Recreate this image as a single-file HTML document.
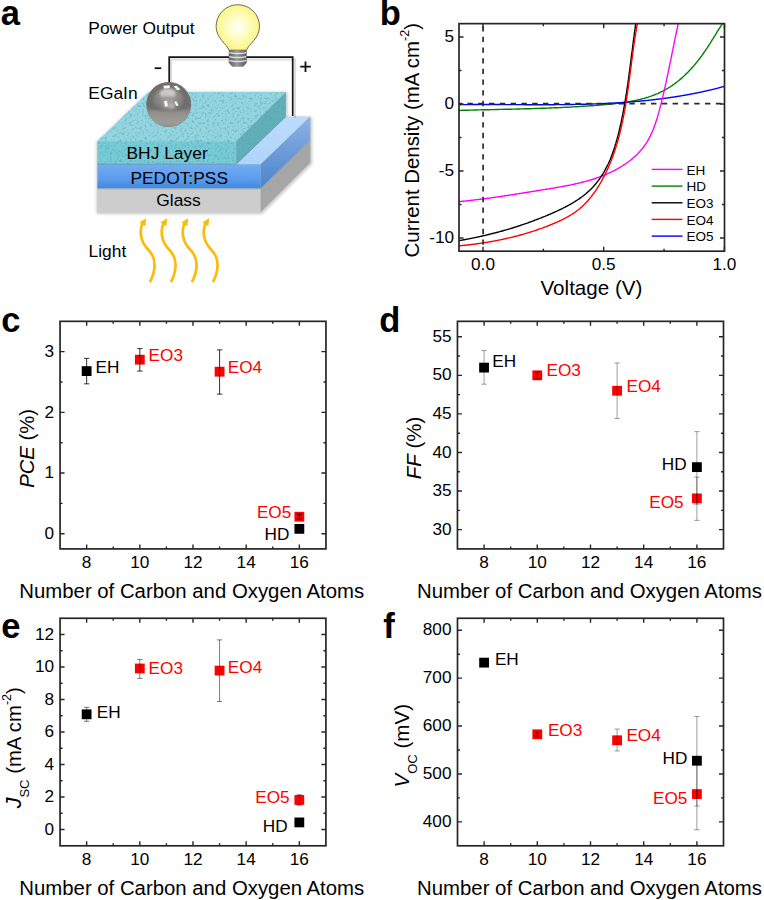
<!DOCTYPE html>
<html><head><meta charset="utf-8"><style>
html,body{margin:0;padding:0;background:#fff;}
body{width:764px;height:900px;overflow:hidden;font-family:"Liberation Sans", sans-serif;}
svg{display:block;}
</style></head><body><svg width="764" height="900" viewBox="0 0 764 900" font-family='"Liberation Sans", sans-serif'><rect width="764" height="900" fill="#fff"/><defs>
<radialGradient id="bulbg" cx="0.5" cy="0.5" r="0.55"><stop offset="0" stop-color="#ffffff"/><stop offset="0.45" stop-color="#fffcc0"/><stop offset="1" stop-color="#fbf57c"/></radialGradient>
<linearGradient id="screwg" x1="0" x2="1" y1="0" y2="0"><stop offset="0" stop-color="#5e5e5e"/><stop offset="0.45" stop-color="#9a9a9a"/><stop offset="1" stop-color="#5a5a5a"/></linearGradient>
<radialGradient id="ballg" cx="0.5" cy="0.5" r="0.5"><stop offset="0" stop-color="#8f8e8a"/><stop offset="0.8" stop-color="#8a8985"/><stop offset="1" stop-color="#6f6e6b"/></radialGradient>
<linearGradient id="pedotf" x1="0" x2="0" y1="0" y2="1"><stop offset="0" stop-color="#72acf4"/><stop offset="0.6" stop-color="#5b9cec"/><stop offset="1" stop-color="#408ae0"/></linearGradient>
<linearGradient id="pedots" x1="0" x2="0" y1="0" y2="1"><stop offset="0" stop-color="#8eb2e3"/><stop offset="1" stop-color="#4a84cc"/></linearGradient>
<linearGradient id="pedott" x1="0" x2="1" y1="1" y2="0"><stop offset="0" stop-color="#a9d0f8"/><stop offset="1" stop-color="#bcdcfc"/></linearGradient>
<filter id="blur1" x="-20%" y="-20%" width="140%" height="140%"><feGaussianBlur stdDeviation="1.6"/></filter>
<filter id="blur05" x="-20%" y="-20%" width="140%" height="140%"><feGaussianBlur stdDeviation="0.6"/></filter>
<filter id="tex" x="0" y="0" width="100%" height="100%" color-interpolation-filters="sRGB"><feTurbulence type="fractalNoise" baseFrequency="0.4" numOctaves="2" seed="5" result="n"/><feColorMatrix in="n" type="matrix" values="0 0 0 0 0.36  0 0 0 0 0.64  0 0 0 0 0.70  0 0 0 2.0 -1.0" result="c"/><feGaussianBlur in="c" stdDeviation="0.5" result="cb"/><feComposite in="cb" in2="SourceGraphic" operator="in" result="t"/><feMerge><feMergeNode in="SourceGraphic"/><feMergeNode in="t"/></feMerge></filter>
</defs><polygon points="96.5,142 148.6,92 287.5,92 287.5,117 312,117 312,164 262,214 96.5,214" fill="#000" opacity="0.22" filter="url(#blur1)"/><polygon points="97.4,188.3 260.7,188.3 260.7,211.9 97.4,211.9" fill="#cdcdcd"/><polygon points="260.7,188.3 310.3,139.8 310.3,162.5 260.7,211.9" fill="#a6a6a6"/><path d="M97.4 188.8H260.7L310.3 140.3" stroke="#9a9a9a" stroke-width="1" fill="none" opacity="0.7"/><polygon points="97.4,164.2 147.6,116.6 310.3,116.6 260.7,164.2" fill="url(#pedott)"/><polygon points="97.4,164.2 260.7,164.2 260.7,188.3 97.4,188.3" fill="url(#pedotf)"/><polygon points="260.7,164.2 310.3,116.6 310.3,139.8 260.7,188.3" fill="url(#pedots)"/><g filter="url(#tex)"><polygon points="97.4,141.3 148.6,91.9 285.9,91.9 236.1,141.3" fill="#93d6e1"/><polygon points="97.4,141.3 236.1,141.3 236.1,164.2 97.4,164.2" fill="#76cbd6"/><polygon points="236.1,141.3 285.9,91.9 285.9,116.6 236.1,164.2" fill="#61afb8"/></g><path d="M97.4 164.2H236.1L285.9 116.6" stroke="#5a7f9a" stroke-width="1" fill="none" opacity="0.55"/><path d="M171 84V59.5H295V118" stroke="#000" stroke-width="2.2" fill="none" opacity="0.13" filter="url(#blur05)"/><path d="M169.2 82V57.2H292.7V116" stroke="#151515" stroke-width="1.7" fill="none"/><path d="M229 50.2 C227 44 216.1 38.5 216.1 26.4 A21.7 21.7 0 0 1 259.5 26.4 C259.5 38.5 248.5 44 246.5 50.2 Z" fill="url(#bulbg)" stroke="#5a5a50" stroke-width="0.9"/><path d="M228.8 50.2H246.7V62.8L243.3 66.8H232.2L228.8 62.8Z" fill="url(#screwg)"/><path d="M229.3 52.6Q237.7 54.4 246.2 52.6" stroke="#e2e2e2" stroke-width="1.3" fill="none"/><path d="M229.3 56.6Q237.7 58.4 246.2 56.6" stroke="#e2e2e2" stroke-width="1.3" fill="none"/><path d="M229.3 60.6Q237.7 62.4 246.2 60.6" stroke="#e2e2e2" stroke-width="1.3" fill="none"/><defs><radialGradient id="ballin" cx="0.5" cy="0.35" r="0.6"><stop offset="0" stop-color="#a09f9b"/><stop offset="1" stop-color="#7c7b78"/></radialGradient><linearGradient id="balllow" x1="0" x2="0" y1="0" y2="1"><stop offset="0" stop-color="#8f8e8a"/><stop offset="0.6" stop-color="#9d9c98"/><stop offset="1" stop-color="#8a8985"/></linearGradient><clipPath id="ballclip"><circle cx="168.7" cy="104.5" r="22.4"/></clipPath><filter id="bblur" x="-30%" y="-30%" width="160%" height="160%"><feGaussianBlur stdDeviation="0.9"/></filter></defs><circle cx="168.7" cy="104.5" r="22.4" fill="#7a7976"/><g clip-path="url(#ballclip)"><g filter="url(#bblur)"><rect x="140" y="110.5" width="60" height="20" fill="url(#balllow)"/><path d="M146 104 Q146 82 168.7 82 Q191.4 82 191.4 104 Q191.4 110 168.7 111.5 Q146 110 146 104Z" fill="#6f6e6b"/><ellipse cx="168.5" cy="99.5" rx="15" ry="11.5" fill="url(#ballin)"/><ellipse cx="167.8" cy="93.6" rx="7.8" ry="5" fill="#cac8c2"/><path d="M163 96 H172.5 L173.5 107 Q168 110 162.5 107Z" fill="#9e9d99"/><ellipse cx="171.5" cy="106" rx="3.6" ry="2.8" fill="#b2b1ac"/></g><path d="M163.3 85.8 L169.6 85.2 L169.8 88 L164 88.6Z M173.6 86.3 L176.5 85.8 L180.5 89.5 L177.3 90.3Z M164.2 101.2 L167 100.8 L167.8 106.3 L165 106.6Z M174.2 101.7 L176.3 101.3 L178.6 105.3 L176.5 105.9Z" fill="#ffffff" filter="url(#blur05)"/></g><text x="88.3" y="33.5" font-size="17.4">Power Output</text><text x="88.3" y="99" font-size="17.4">EGaIn</text><text x="126.5" y="158.5" font-size="17.4">BHJ Layer</text><text x="130.4" y="183.7" font-size="17.4">PEDOT:PSS</text><text x="156.3" y="206.4" font-size="17.4">Glass</text><text x="88.5" y="256.5" font-size="17.4">Light</text><path d="M154.7 68.2H161.3" stroke="#111" stroke-width="1.8"/><path d="M305.5 61.5V72M300.2 66.7H310.8" stroke="#111" stroke-width="1.8"/><path d="M150.4 281.1 C155 272 157.5 259 148.5 250 C140.5 242 139.2 232 142.2 224" stroke="#fcbb0a" stroke-width="2.7" fill="none" stroke-linecap="round"/><polygon points="146.2,218.2 139.4,222.4 145.4,226.2" fill="#fcbb0a"/><path d="M171.4 281.1 C176 272 178.5 259 169.5 250 C161.5 242 160.2 232 163.2 224" stroke="#fcbb0a" stroke-width="2.7" fill="none" stroke-linecap="round"/><polygon points="167.2,218.2 160.4,222.4 166.4,226.2" fill="#fcbb0a"/><path d="M192.4 281.1 C197 272 199.5 259 190.5 250 C182.5 242 181.2 232 184.2 224" stroke="#fcbb0a" stroke-width="2.7" fill="none" stroke-linecap="round"/><polygon points="188.2,218.2 181.4,222.4 187.4,226.2" fill="#fcbb0a"/><path d="M213.4 281.1 C218 272 220.5 259 211.5 250 C203.5 242 202.2 232 205.2 224" stroke="#fcbb0a" stroke-width="2.7" fill="none" stroke-linecap="round"/><polygon points="209.2,218.2 202.4,222.4 208.4,226.2" fill="#fcbb0a"/><text x="0.8" y="25.3" font-size="34.5" text-anchor="start" fill="#000" font-weight="bold">a</text><text x="379.8" y="25.2" font-size="34.5" text-anchor="start" fill="#000" font-weight="bold">b</text><text x="1.2" y="331.7" font-size="34.5" text-anchor="start" fill="#000" font-weight="bold">c</text><text x="379.3" y="331.7" font-size="34.5" text-anchor="start" fill="#000" font-weight="bold">d</text><text x="1.2" y="637.5" font-size="34.5" text-anchor="start" fill="#000" font-weight="bold">e</text><text x="383.3" y="637.5" font-size="34.5" text-anchor="start" fill="#000" font-weight="bold">f</text><g><defs><clipPath id="cb"><rect x="459.0" y="23.64" width="265.5" height="227.56"/></clipPath></defs><g clip-path="url(#cb)"><path d="M452.5 110.6 L453.3 110.6 L454.1 110.6 L455.0 110.5 L455.8 110.5 L456.6 110.5 L457.5 110.5 L458.3 110.5 L459.1 110.4 L459.9 110.4 L460.7 110.4 L461.6 110.4 L462.4 110.3 L463.2 110.3 L464.0 110.3 L464.8 110.3 L465.7 110.2 L466.5 110.2 L467.3 110.2 L468.1 110.2 L468.9 110.2 L469.7 110.1 L470.5 110.1 L471.3 110.1 L472.1 110.1 L472.9 110.1 L473.7 110.0 L474.5 110.0 L475.3 110.0 L476.1 110.0 L476.9 110.0 L477.7 109.9 L478.5 109.9 L479.3 109.9 L480.1 109.9 L480.9 109.9 L481.7 109.8 L482.5 109.8 L483.3 109.8 L484.1 109.8 L484.9 109.8 L485.7 109.7 L486.5 109.7 L487.3 109.7 L488.0 109.7 L488.8 109.7 L489.6 109.7 L490.4 109.6 L491.2 109.6 L492.0 109.6 L492.7 109.6 L493.5 109.6 L494.3 109.6 L495.1 109.5 L495.9 109.5 L496.6 109.5 L497.4 109.5 L498.2 109.5 L499.0 109.4 L499.7 109.4 L500.5 109.4 L501.3 109.4 L502.0 109.4 L502.8 109.4 L503.6 109.3 L504.4 109.3 L505.1 109.3 L505.9 109.3 L506.7 109.3 L507.4 109.3 L508.2 109.2 L509.0 109.2 L509.7 109.2 L510.5 109.2 L511.3 109.2 L512.0 109.1 L512.8 109.1 L513.6 109.1 L514.3 109.1 L515.1 109.1 L515.8 109.1 L516.6 109.0 L517.4 109.0 L518.1 109.0 L518.9 109.0 L519.6 109.0 L520.4 108.9 L521.2 108.9 L521.9 108.9 L522.7 108.9 L523.4 108.9 L524.2 108.8 L525.0 108.8 L525.7 108.8 L526.5 108.8 L527.2 108.8 L528.0 108.7 L528.7 108.7 L529.5 108.7 L530.3 108.7 L531.0 108.6 L531.8 108.6 L532.5 108.6 L533.3 108.6 L534.0 108.6 L534.8 108.5 L535.5 108.5 L536.3 108.5 L537.0 108.5 L537.8 108.4 L538.5 108.4 L539.3 108.4 L540.1 108.4 L540.8 108.3 L541.6 108.3 L542.3 108.3 L543.1 108.3 L543.8 108.2 L544.6 108.2 L545.3 108.2 L546.1 108.2 L546.8 108.1 L547.6 108.1 L548.3 108.1 L549.1 108.0 L549.8 108.0 L550.6 108.0 L551.3 108.0 L552.1 107.9 L552.8 107.9 L553.6 107.9 L554.4 107.8 L555.1 107.8 L555.9 107.8 L556.6 107.7 L557.4 107.7 L558.1 107.7 L558.9 107.6 L559.6 107.6 L560.4 107.6 L561.1 107.5 L561.9 107.5 L562.6 107.5 L563.4 107.4 L564.2 107.4 L564.9 107.3 L565.7 107.3 L566.4 107.3 L567.2 107.2 L567.9 107.2 L568.7 107.2 L569.5 107.1 L570.2 107.1 L571.0 107.0 L571.7 107.0 L572.5 106.9 L573.3 106.9 L574.0 106.9 L574.8 106.8 L575.5 106.8 L576.3 106.7 L577.1 106.7 L577.8 106.6 L578.6 106.6 L579.3 106.5 L580.1 106.5 L580.9 106.4 L581.6 106.4 L582.4 106.3 L583.2 106.3 L583.9 106.2 L584.7 106.2 L585.5 106.1 L586.2 106.1 L587.0 106.0 L587.8 106.0 L588.5 105.9 L589.3 105.9 L590.1 105.8 L590.9 105.8 L591.6 105.7 L592.4 105.7 L593.2 105.6 L594.0 105.5 L594.7 105.5 L595.5 105.4 L596.3 105.4 L597.1 105.3 L597.8 105.2 L598.6 105.2 L599.4 105.1 L600.2 105.0 L601.0 105.0 L601.7 104.9 L602.5 104.8 L603.3 104.8 L604.1 104.7 L604.9 104.6 L605.7 104.6 L606.5 104.5 L607.2 104.4 L608.0 104.4 L608.8 104.3 L609.6 104.2 L610.4 104.1 L611.2 104.0 L612.0 104.0 L612.7 103.9 L613.5 103.8 L614.3 103.7 L615.1 103.6 L615.9 103.5 L616.7 103.4 L617.5 103.3 L618.3 103.2 L619.0 103.1 L619.8 103.0 L620.6 102.9 L621.4 102.8 L622.2 102.7 L623.0 102.6 L623.7 102.5 L624.5 102.4 L625.3 102.3 L626.1 102.1 L626.9 102.0 L627.6 101.9 L628.4 101.7 L629.2 101.6 L630.0 101.5 L630.7 101.3 L631.5 101.2 L632.3 101.0 L633.1 100.9 L633.8 100.7 L634.6 100.6 L635.4 100.4 L636.1 100.3 L636.9 100.1 L637.7 99.9 L638.4 99.7 L639.2 99.6 L639.9 99.4 L640.7 99.2 L641.4 99.0 L642.2 98.8 L642.9 98.6 L643.7 98.4 L644.4 98.2 L645.2 98.0 L645.9 97.8 L646.7 97.5 L647.4 97.3 L648.1 97.1 L648.9 96.8 L649.6 96.6 L650.3 96.3 L651.0 96.1 L651.8 95.8 L652.5 95.6 L653.2 95.3 L653.9 95.0 L654.6 94.8 L655.3 94.5 L656.0 94.2 L656.8 93.9 L657.5 93.6 L658.2 93.3 L658.8 93.0 L659.5 92.7 L660.2 92.4 L660.9 92.0 L661.6 91.7 L662.3 91.4 L662.9 91.0 L663.6 90.7 L664.3 90.3 L665.0 89.9 L665.6 89.6 L666.3 89.2 L666.9 88.8 L667.6 88.4 L668.2 88.0 L668.9 87.6 L669.5 87.2 L670.2 86.8 L670.8 86.4 L671.4 86.0 L672.1 85.6 L672.7 85.1 L673.3 84.7 L673.9 84.3 L674.5 83.8 L675.2 83.4 L675.8 82.9 L676.4 82.4 L677.0 82.0 L677.6 81.5 L678.2 81.0 L678.8 80.5 L679.4 80.1 L679.9 79.6 L680.5 79.1 L681.1 78.6 L681.7 78.1 L682.3 77.6 L682.8 77.0 L683.4 76.5 L684.0 76.0 L684.5 75.5 L685.1 75.0 L685.6 74.4 L686.2 73.9 L686.7 73.3 L687.3 72.8 L687.8 72.2 L688.4 71.7 L688.9 71.1 L689.4 70.6 L690.0 70.0 L690.5 69.4 L691.0 68.9 L691.6 68.3 L692.1 67.7 L692.6 67.1 L693.1 66.5 L693.6 66.0 L694.1 65.4 L694.6 64.8 L695.1 64.2 L695.6 63.6 L696.1 63.0 L696.6 62.4 L697.1 61.8 L697.6 61.1 L698.1 60.5 L698.6 59.9 L699.0 59.3 L699.5 58.7 L700.0 58.0 L700.5 57.4 L700.9 56.8 L701.4 56.2 L701.9 55.5 L702.3 54.9 L702.8 54.3 L703.2 53.6 L703.7 53.0 L704.1 52.3 L704.6 51.7 L705.0 51.0 L705.5 50.4 L705.9 49.7 L706.3 49.1 L706.8 48.4 L707.2 47.8 L707.6 47.1 L708.1 46.5 L708.5 45.8 L708.9 45.1 L709.3 44.5 L709.8 43.8 L710.2 43.2 L710.6 42.5 L711.0 41.8 L711.4 41.2 L711.8 40.5 L712.2 39.9 L712.7 39.2 L713.1 38.5 L713.5 37.9 L713.9 37.2 L714.3 36.6 L714.7 35.9 L715.1 35.3 L715.5 34.6 L715.9 33.9 L716.3 33.3 L716.7 32.6 L717.1 32.0 L717.5 31.3 L717.9 30.7 L718.3 30.0 L718.7 29.4 L719.2 28.7 L719.6 28.1 L720.0 27.5 L720.4 26.8 L720.8 26.2 L721.2 25.6 L721.6 24.9 L722.0 24.3 L722.4 23.7 L722.8 23.0 L723.2 22.4 L723.6 21.8 L724.0 21.2 L724.5 20.6 L724.9 20.0 L725.3 19.4" stroke="#008000" stroke-width="1.4" fill="none" stroke-linejoin="round"/><path d="M452.9 104.8 L453.6 104.8 L454.3 104.7 L455.0 104.7 L455.7 104.7 L456.4 104.7 L457.1 104.7 L457.8 104.7 L458.5 104.7 L459.2 104.7 L459.9 104.7 L460.6 104.7 L461.3 104.6 L462.0 104.6 L462.7 104.6 L463.3 104.6 L464.0 104.6 L464.7 104.6 L465.4 104.6 L466.1 104.6 L466.8 104.6 L467.5 104.6 L468.2 104.6 L468.9 104.6 L469.6 104.6 L470.3 104.6 L471.0 104.6 L471.7 104.6 L472.4 104.6 L473.1 104.5 L473.8 104.5 L474.5 104.5 L475.2 104.5 L475.9 104.5 L476.6 104.5 L477.3 104.5 L478.0 104.5 L478.7 104.5 L479.4 104.5 L480.1 104.5 L480.8 104.5 L481.5 104.5 L482.2 104.5 L482.9 104.5 L483.5 104.5 L484.2 104.5 L484.9 104.5 L485.6 104.5 L486.3 104.5 L487.0 104.5 L487.7 104.5 L488.4 104.5 L489.1 104.5 L489.8 104.5 L490.5 104.5 L491.2 104.5 L491.9 104.5 L492.6 104.5 L493.3 104.5 L494.0 104.5 L494.7 104.5 L495.4 104.5 L496.1 104.5 L496.8 104.5 L497.5 104.5 L498.2 104.5 L498.9 104.5 L499.6 104.5 L500.3 104.5 L501.0 104.5 L501.7 104.6 L502.4 104.6 L503.1 104.6 L503.8 104.6 L504.5 104.6 L505.2 104.6 L505.9 104.6 L506.6 104.6 L507.3 104.6 L508.0 104.6 L508.7 104.6 L509.4 104.6 L510.1 104.6 L510.8 104.6 L511.5 104.6 L512.2 104.6 L512.9 104.6 L513.6 104.6 L514.3 104.6 L515.0 104.6 L515.7 104.6 L516.4 104.6 L517.1 104.6 L517.8 104.6 L518.5 104.6 L519.2 104.6 L519.9 104.6 L520.6 104.6 L521.3 104.6 L522.0 104.6 L522.7 104.6 L523.4 104.6 L524.1 104.7 L524.8 104.7 L525.5 104.7 L526.2 104.7 L526.9 104.7 L527.6 104.7 L528.3 104.7 L529.0 104.7 L529.7 104.7 L530.4 104.7 L531.1 104.7 L531.8 104.7 L532.5 104.7 L533.2 104.7 L533.9 104.7 L534.6 104.7 L535.3 104.7 L536.0 104.7 L536.7 104.7 L537.4 104.7 L538.1 104.7 L538.8 104.7 L539.5 104.7 L540.2 104.7 L540.9 104.7 L541.6 104.7 L542.3 104.7 L543.0 104.7 L543.7 104.7 L544.4 104.7 L545.1 104.7 L545.8 104.7 L546.5 104.7 L547.2 104.7 L547.9 104.7 L548.6 104.7 L549.3 104.7 L550.0 104.7 L550.7 104.7 L551.4 104.7 L552.1 104.7 L552.8 104.7 L553.5 104.7 L554.2 104.7 L554.9 104.7 L555.6 104.6 L556.3 104.6 L557.0 104.6 L557.7 104.6 L558.4 104.6 L559.1 104.6 L559.8 104.6 L560.5 104.6 L561.2 104.6 L561.9 104.6 L562.6 104.6 L563.3 104.6 L564.0 104.6 L564.7 104.6 L565.4 104.6 L566.1 104.6 L566.8 104.5 L567.5 104.5 L568.2 104.5 L568.9 104.5 L569.6 104.5 L570.3 104.5 L571.0 104.5 L571.7 104.5 L572.4 104.5 L573.1 104.5 L573.8 104.4 L574.5 104.4 L575.2 104.4 L575.9 104.4 L576.6 104.4 L577.3 104.4 L578.0 104.4 L578.7 104.3 L579.4 104.3 L580.1 104.3 L580.8 104.3 L581.5 104.3 L582.2 104.3 L582.9 104.3 L583.6 104.2 L584.3 104.2 L585.0 104.2 L585.7 104.2 L586.4 104.2 L587.1 104.1 L587.8 104.1 L588.5 104.1 L589.2 104.1 L589.9 104.1 L590.6 104.0 L591.3 104.0 L592.0 104.0 L592.7 104.0 L593.4 103.9 L594.1 103.9 L594.8 103.9 L595.5 103.9 L596.2 103.9 L596.9 103.8 L597.6 103.8 L598.3 103.8 L599.0 103.7 L599.7 103.7 L600.4 103.7 L601.1 103.7 L601.8 103.6 L602.5 103.6 L603.2 103.6 L603.9 103.5 L604.6 103.5 L605.3 103.5 L606.0 103.4 L606.7 103.4 L607.4 103.4 L608.0 103.3 L608.7 103.3 L609.4 103.3 L610.1 103.2 L610.8 103.2 L611.5 103.2 L612.2 103.1 L612.9 103.1 L613.6 103.1 L614.3 103.0 L615.0 103.0 L615.7 102.9 L616.4 102.9 L617.1 102.8 L617.8 102.8 L618.5 102.8 L619.2 102.7 L619.9 102.7 L620.6 102.6 L621.3 102.6 L622.0 102.5 L622.7 102.5 L623.4 102.4 L624.1 102.4 L624.8 102.3 L625.5 102.3 L626.2 102.2 L626.9 102.2 L627.6 102.1 L628.3 102.1 L629.0 102.0 L629.6 102.0 L630.3 101.9 L631.0 101.9 L631.7 101.8 L632.4 101.8 L633.1 101.7 L633.8 101.7 L634.5 101.6 L635.2 101.5 L635.9 101.5 L636.6 101.4 L637.3 101.4 L638.0 101.3 L638.7 101.2 L639.4 101.2 L640.1 101.1 L640.8 101.0 L641.5 101.0 L642.2 100.9 L642.8 100.8 L643.5 100.8 L644.2 100.7 L644.9 100.6 L645.6 100.6 L646.3 100.5 L647.0 100.4 L647.7 100.4 L648.4 100.3 L649.1 100.2 L649.8 100.1 L650.5 100.1 L651.2 100.0 L651.9 99.9 L652.6 99.8 L653.2 99.7 L653.9 99.7 L654.6 99.6 L655.3 99.5 L656.0 99.4 L656.7 99.3 L657.4 99.3 L658.1 99.2 L658.8 99.1 L659.5 99.0 L660.2 98.9 L660.9 98.8 L661.5 98.7 L662.2 98.6 L662.9 98.6 L663.6 98.5 L664.3 98.4 L665.0 98.3 L665.7 98.2 L666.4 98.1 L667.1 98.0 L667.8 97.9 L668.5 97.8 L669.1 97.7 L669.8 97.6 L670.5 97.5 L671.2 97.4 L671.9 97.3 L672.6 97.2 L673.3 97.1 L674.0 97.0 L674.7 96.9 L675.3 96.8 L676.0 96.7 L676.7 96.6 L677.4 96.4 L678.1 96.3 L678.8 96.2 L679.5 96.1 L680.2 96.0 L680.9 95.9 L681.5 95.8 L682.2 95.6 L682.9 95.5 L683.6 95.4 L684.3 95.3 L685.0 95.2 L685.7 95.1 L686.4 94.9 L687.0 94.8 L687.7 94.7 L688.4 94.6 L689.1 94.4 L689.8 94.3 L690.5 94.2 L691.2 94.0 L691.8 93.9 L692.5 93.8 L693.2 93.6 L693.9 93.5 L694.6 93.4 L695.3 93.2 L696.0 93.1 L696.6 93.0 L697.3 92.8 L698.0 92.7 L698.7 92.5 L699.4 92.4 L700.1 92.3 L700.7 92.1 L701.4 92.0 L702.1 91.8 L702.8 91.7 L703.5 91.5 L704.2 91.4 L704.8 91.2 L705.5 91.1 L706.2 90.9 L706.9 90.8 L707.6 90.6 L708.3 90.4 L708.9 90.3 L709.6 90.1 L710.3 90.0 L711.0 89.8 L711.7 89.6 L712.3 89.5 L713.0 89.3 L713.7 89.1 L714.4 89.0 L715.1 88.8 L715.8 88.6 L716.4 88.5 L717.1 88.3 L717.8 88.1 L718.5 87.9 L719.2 87.8 L719.8 87.6 L720.5 87.4 L721.2 87.2 L721.9 87.0 L722.5 86.9 L723.2 86.7 L723.9 86.5 L724.6 86.3 L725.3 86.1 L725.9 85.9 L726.6 85.7 L727.3 85.5 L728.0 85.4 L728.7 85.2 L729.3 85.0 L730.0 84.8" stroke="#0000ff" stroke-width="1.4" fill="none" stroke-linejoin="round"/><path d="M452.8 202.2 L453.7 202.1 L454.5 202.1 L455.4 202.0 L456.2 201.9 L457.1 201.8 L457.9 201.8 L458.8 201.7 L459.6 201.6 L460.5 201.5 L461.3 201.4 L462.2 201.3 L463.0 201.3 L463.9 201.2 L464.7 201.1 L465.6 201.0 L466.4 200.9 L467.2 200.8 L468.1 200.7 L468.9 200.6 L469.8 200.5 L470.6 200.4 L471.5 200.3 L472.3 200.2 L473.1 200.1 L474.0 200.0 L474.8 199.9 L475.7 199.8 L476.5 199.7 L477.3 199.6 L478.2 199.5 L479.0 199.4 L479.9 199.3 L480.7 199.2 L481.5 199.1 L482.4 199.0 L483.2 198.9 L484.0 198.8 L484.9 198.7 L485.7 198.6 L486.6 198.5 L487.4 198.3 L488.2 198.2 L489.1 198.1 L489.9 198.0 L490.7 197.9 L491.6 197.8 L492.4 197.6 L493.2 197.5 L494.1 197.4 L494.9 197.3 L495.7 197.2 L496.6 197.1 L497.4 196.9 L498.2 196.8 L499.1 196.7 L499.9 196.6 L500.7 196.5 L501.6 196.3 L502.4 196.2 L503.2 196.1 L504.1 196.0 L504.9 195.8 L505.7 195.7 L506.6 195.6 L507.4 195.5 L508.2 195.3 L509.1 195.2 L509.9 195.1 L510.7 194.9 L511.5 194.8 L512.4 194.7 L513.2 194.6 L514.0 194.4 L514.9 194.3 L515.7 194.2 L516.5 194.0 L517.4 193.9 L518.2 193.8 L519.0 193.6 L519.9 193.5 L520.7 193.4 L521.5 193.2 L522.4 193.1 L523.2 193.0 L524.0 192.8 L524.8 192.7 L525.7 192.6 L526.5 192.4 L527.3 192.3 L528.2 192.2 L529.0 192.0 L529.8 191.9 L530.7 191.8 L531.5 191.6 L532.3 191.5 L533.2 191.4 L534.0 191.2 L534.8 191.1 L535.7 191.0 L536.5 190.8 L537.3 190.7 L538.2 190.5 L539.0 190.4 L539.8 190.3 L540.7 190.1 L541.5 190.0 L542.3 189.9 L543.2 189.7 L544.0 189.6 L544.9 189.5 L545.7 189.3 L546.5 189.2 L547.4 189.1 L548.2 188.9 L549.0 188.8 L549.9 188.6 L550.7 188.5 L551.6 188.4 L552.4 188.2 L553.2 188.1 L554.1 188.0 L554.9 187.8 L555.7 187.7 L556.6 187.5 L557.4 187.4 L558.2 187.2 L559.1 187.1 L559.9 186.9 L560.8 186.8 L561.6 186.6 L562.4 186.5 L563.3 186.3 L564.1 186.2 L564.9 186.0 L565.8 185.9 L566.6 185.7 L567.4 185.5 L568.3 185.4 L569.1 185.2 L569.9 185.1 L570.8 184.9 L571.6 184.7 L572.4 184.5 L573.2 184.4 L574.1 184.2 L574.9 184.0 L575.7 183.8 L576.6 183.6 L577.4 183.4 L578.2 183.2 L579.0 183.1 L579.8 182.9 L580.7 182.7 L581.5 182.4 L582.3 182.2 L583.1 182.0 L583.9 181.8 L584.8 181.6 L585.6 181.4 L586.4 181.2 L587.2 180.9 L588.0 180.7 L588.8 180.5 L589.6 180.2 L590.4 180.0 L591.3 179.7 L592.1 179.5 L592.9 179.2 L593.7 179.0 L594.5 178.7 L595.3 178.5 L596.1 178.2 L596.9 177.9 L597.7 177.6 L598.5 177.3 L599.3 177.1 L600.0 176.8 L600.8 176.5 L601.6 176.2 L602.4 175.9 L603.2 175.6 L604.0 175.2 L604.8 174.9 L605.5 174.6 L606.3 174.3 L607.1 173.9 L607.9 173.6 L608.6 173.2 L609.4 172.9 L610.2 172.5 L611.0 172.2 L611.7 171.8 L612.5 171.4 L613.2 171.0 L614.0 170.6 L614.8 170.3 L615.5 169.9 L616.3 169.5 L617.0 169.0 L617.8 168.6 L618.5 168.2 L619.2 167.8 L620.0 167.4 L620.7 166.9 L621.4 166.5 L622.2 166.0 L622.9 165.6 L623.6 165.1 L624.3 164.6 L625.0 164.2 L625.7 163.7 L626.4 163.2 L627.1 162.7 L627.8 162.2 L628.5 161.7 L629.1 161.2 L629.8 160.7 L630.5 160.2 L631.1 159.7 L631.8 159.1 L632.4 158.6 L633.1 158.0 L633.7 157.5 L634.3 156.9 L635.0 156.4 L635.6 155.8 L636.2 155.2 L636.8 154.7 L637.4 154.1 L638.0 153.5 L638.5 152.9 L639.1 152.3 L639.7 151.7 L640.2 151.0 L640.8 150.4 L641.3 149.8 L641.9 149.2 L642.4 148.5 L642.9 147.9 L643.4 147.2 L643.9 146.5 L644.4 145.9 L644.9 145.2 L645.4 144.5 L645.8 143.8 L646.3 143.1 L646.7 142.4 L647.2 141.7 L647.6 141.0 L648.0 140.3 L648.4 139.6 L648.8 138.9 L649.2 138.1 L649.6 137.4 L650.0 136.6 L650.4 135.9 L650.7 135.1 L651.1 134.4 L651.4 133.6 L651.8 132.9 L652.1 132.1 L652.5 131.3 L652.8 130.5 L653.1 129.8 L653.4 129.0 L653.7 128.2 L654.0 127.4 L654.3 126.6 L654.6 125.8 L654.9 125.0 L655.2 124.2 L655.4 123.4 L655.7 122.6 L656.0 121.8 L656.2 120.9 L656.5 120.1 L656.8 119.3 L657.0 118.5 L657.3 117.7 L657.5 116.9 L657.7 116.0 L658.0 115.2 L658.2 114.4 L658.4 113.6 L658.7 112.7 L658.9 111.9 L659.1 111.1 L659.4 110.2 L659.6 109.4 L659.8 108.6 L660.0 107.8 L660.2 106.9 L660.4 106.1 L660.7 105.3 L660.9 104.5 L661.1 103.6 L661.3 102.8 L661.5 102.0 L661.7 101.1 L661.9 100.3 L662.1 99.5 L662.3 98.7 L662.5 97.8 L662.7 97.0 L662.9 96.2 L663.1 95.4 L663.3 94.5 L663.5 93.7 L663.7 92.9 L663.9 92.1 L664.1 91.2 L664.2 90.4 L664.4 89.6 L664.6 88.8 L664.8 87.9 L665.0 87.1 L665.2 86.3 L665.4 85.5 L665.5 84.6 L665.7 83.8 L665.9 83.0 L666.1 82.2 L666.3 81.3 L666.4 80.5 L666.6 79.7 L666.8 78.9 L667.0 78.0 L667.1 77.2 L667.3 76.4 L667.5 75.6 L667.7 74.7 L667.8 73.9 L668.0 73.1 L668.2 72.3 L668.4 71.4 L668.5 70.6 L668.7 69.8 L668.9 69.0 L669.0 68.1 L669.2 67.3 L669.4 66.5 L669.5 65.7 L669.7 64.8 L669.9 64.0 L670.0 63.2 L670.2 62.4 L670.4 61.5 L670.6 60.7 L670.7 59.9 L670.9 59.1 L671.1 58.2 L671.2 57.4 L671.4 56.6 L671.6 55.8 L671.7 54.9 L671.9 54.1 L672.0 53.3 L672.2 52.5 L672.4 51.6 L672.6 50.8 L672.7 50.0 L672.9 49.2 L673.1 48.3 L673.2 47.5 L673.4 46.7 L673.6 45.9 L673.7 45.0 L673.9 44.2 L674.1 43.4 L674.2 42.6 L674.4 41.7 L674.6 40.9 L674.7 40.1 L674.9 39.2 L675.1 38.4 L675.3 37.6 L675.4 36.8 L675.6 35.9 L675.8 35.1 L676.0 34.3 L676.1 33.5 L676.3 32.6 L676.5 31.8 L676.7 31.0 L676.8 30.1 L677.0 29.3 L677.2 28.5 L677.4 27.7 L677.6 26.8 L677.7 26.0 L677.9 25.2 L678.1 24.4 L678.3 23.5 L678.5 22.7 L678.7 21.9 L678.9 21.0 L679.1 20.2 L679.2 19.4 L679.4 18.5" stroke="#ff00ff" stroke-width="1.4" fill="none" stroke-linejoin="round"/><path d="M452.9 241.6 L453.7 241.5 L454.5 241.4 L455.4 241.2 L456.2 241.1 L457.0 241.0 L457.8 240.8 L458.7 240.7 L459.5 240.5 L460.3 240.4 L461.1 240.3 L461.9 240.1 L462.8 240.0 L463.6 239.8 L464.4 239.7 L465.2 239.5 L466.0 239.4 L466.8 239.2 L467.7 239.1 L468.5 238.9 L469.3 238.7 L470.1 238.6 L470.9 238.4 L471.7 238.3 L472.5 238.1 L473.3 237.9 L474.2 237.8 L475.0 237.6 L475.8 237.4 L476.6 237.3 L477.4 237.1 L478.2 236.9 L479.0 236.7 L479.8 236.6 L480.6 236.4 L481.4 236.2 L482.2 236.0 L483.0 235.8 L483.8 235.6 L484.6 235.5 L485.4 235.3 L486.2 235.1 L487.0 234.9 L487.8 234.7 L488.6 234.5 L489.4 234.3 L490.2 234.1 L491.0 233.9 L491.8 233.7 L492.6 233.5 L493.4 233.3 L494.2 233.1 L495.0 232.9 L495.8 232.7 L496.6 232.5 L497.4 232.3 L498.2 232.1 L499.0 231.9 L499.8 231.6 L500.6 231.4 L501.4 231.2 L502.2 231.0 L503.0 230.8 L503.7 230.5 L504.5 230.3 L505.3 230.1 L506.1 229.9 L506.9 229.6 L507.7 229.4 L508.5 229.2 L509.3 228.9 L510.1 228.7 L510.8 228.5 L511.6 228.2 L512.4 228.0 L513.2 227.7 L514.0 227.5 L514.8 227.2 L515.5 227.0 L516.3 226.7 L517.1 226.5 L517.9 226.2 L518.7 226.0 L519.5 225.7 L520.2 225.5 L521.0 225.2 L521.8 224.9 L522.6 224.7 L523.4 224.4 L524.1 224.2 L524.9 223.9 L525.7 223.6 L526.5 223.3 L527.2 223.1 L528.0 222.8 L528.8 222.5 L529.6 222.2 L530.3 222.0 L531.1 221.7 L531.9 221.4 L532.7 221.1 L533.4 220.8 L534.2 220.5 L535.0 220.2 L535.8 219.9 L536.5 219.6 L537.3 219.3 L538.1 219.0 L538.9 218.7 L539.6 218.4 L540.4 218.1 L541.2 217.8 L541.9 217.5 L542.7 217.2 L543.5 216.9 L544.2 216.6 L545.0 216.3 L545.8 215.9 L546.6 215.6 L547.3 215.3 L548.1 215.0 L548.9 214.6 L549.6 214.3 L550.4 214.0 L551.2 213.7 L551.9 213.3 L552.7 213.0 L553.5 212.7 L554.2 212.3 L555.0 212.0 L555.7 211.6 L556.5 211.3 L557.3 210.9 L558.0 210.6 L558.8 210.2 L559.5 209.9 L560.3 209.5 L561.1 209.1 L561.8 208.8 L562.6 208.4 L563.3 208.0 L564.0 207.6 L564.8 207.3 L565.5 206.9 L566.3 206.5 L567.0 206.1 L567.7 205.7 L568.5 205.3 L569.2 204.9 L569.9 204.5 L570.7 204.1 L571.4 203.7 L572.1 203.3 L572.8 202.9 L573.5 202.4 L574.2 202.0 L574.9 201.6 L575.6 201.1 L576.3 200.7 L577.0 200.2 L577.7 199.8 L578.4 199.3 L579.1 198.9 L579.7 198.4 L580.4 197.9 L581.1 197.4 L581.7 197.0 L582.4 196.5 L583.0 196.0 L583.7 195.5 L584.3 195.0 L584.9 194.5 L585.6 194.0 L586.2 193.4 L586.8 192.9 L587.4 192.4 L588.0 191.8 L588.6 191.3 L589.2 190.7 L589.8 190.2 L590.4 189.6 L591.0 189.1 L591.6 188.5 L592.1 187.9 L592.7 187.3 L593.2 186.7 L593.8 186.1 L594.3 185.5 L594.8 184.9 L595.4 184.3 L595.9 183.6 L596.4 183.0 L596.9 182.4 L597.4 181.7 L597.9 181.1 L598.4 180.4 L598.9 179.8 L599.4 179.1 L599.8 178.5 L600.3 177.8 L600.8 177.1 L601.2 176.4 L601.7 175.8 L602.1 175.1 L602.5 174.4 L603.0 173.7 L603.4 173.0 L603.8 172.3 L604.2 171.6 L604.6 170.8 L605.0 170.1 L605.4 169.4 L605.8 168.7 L606.2 167.9 L606.6 167.2 L606.9 166.5 L607.3 165.7 L607.7 165.0 L608.0 164.3 L608.4 163.5 L608.7 162.8 L609.1 162.0 L609.4 161.2 L609.7 160.5 L610.1 159.7 L610.4 159.0 L610.7 158.2 L611.0 157.4 L611.3 156.6 L611.6 155.9 L611.9 155.1 L612.2 154.3 L612.5 153.5 L612.8 152.8 L613.0 152.0 L613.3 151.2 L613.6 150.4 L613.9 149.6 L614.1 148.8 L614.4 148.0 L614.6 147.2 L614.9 146.4 L615.1 145.6 L615.4 144.8 L615.6 144.0 L615.9 143.2 L616.1 142.4 L616.3 141.6 L616.5 140.8 L616.8 140.0 L617.0 139.2 L617.2 138.4 L617.4 137.6 L617.6 136.8 L617.8 136.0 L618.1 135.2 L618.3 134.4 L618.5 133.6 L618.7 132.8 L618.9 132.0 L619.1 131.2 L619.3 130.4 L619.5 129.5 L619.6 128.7 L619.8 127.9 L620.0 127.1 L620.2 126.3 L620.4 125.5 L620.6 124.7 L620.8 123.9 L620.9 123.1 L621.1 122.3 L621.3 121.5 L621.5 120.6 L621.6 119.8 L621.8 119.0 L622.0 118.2 L622.1 117.4 L622.3 116.6 L622.5 115.8 L622.6 115.0 L622.8 114.2 L622.9 113.4 L623.1 112.5 L623.2 111.7 L623.4 110.9 L623.6 110.1 L623.7 109.3 L623.9 108.5 L624.0 107.7 L624.1 106.9 L624.3 106.1 L624.4 105.2 L624.6 104.4 L624.7 103.6 L624.9 102.8 L625.0 102.0 L625.1 101.2 L625.3 100.4 L625.4 99.6 L625.5 98.7 L625.7 97.9 L625.8 97.1 L625.9 96.3 L626.1 95.5 L626.2 94.7 L626.3 93.9 L626.4 93.1 L626.6 92.2 L626.7 91.4 L626.8 90.6 L626.9 89.8 L627.1 89.0 L627.2 88.2 L627.3 87.4 L627.4 86.5 L627.5 85.7 L627.7 84.9 L627.8 84.1 L627.9 83.3 L628.0 82.5 L628.1 81.7 L628.2 80.8 L628.3 80.0 L628.5 79.2 L628.6 78.4 L628.7 77.6 L628.8 76.8 L628.9 76.0 L629.0 75.1 L629.1 74.3 L629.2 73.5 L629.3 72.7 L629.4 71.9 L629.6 71.1 L629.7 70.2 L629.8 69.4 L629.9 68.6 L630.0 67.8 L630.1 67.0 L630.2 66.2 L630.3 65.3 L630.4 64.5 L630.5 63.7 L630.6 62.9 L630.7 62.1 L630.8 61.3 L630.9 60.4 L631.0 59.6 L631.1 58.8 L631.2 58.0 L631.3 57.2 L631.4 56.3 L631.5 55.5 L631.6 54.7 L631.7 53.9 L631.8 53.1 L631.9 52.3 L632.1 51.4 L632.2 50.6 L632.3 49.8 L632.4 49.0 L632.5 48.2 L632.6 47.3 L632.7 46.5 L632.8 45.7 L632.9 44.9 L633.0 44.1 L633.1 43.2 L633.2 42.4 L633.3 41.6 L633.4 40.8 L633.5 40.0 L633.6 39.1 L633.7 38.3 L633.8 37.5 L634.0 36.7 L634.1 35.9 L634.2 35.0 L634.3 34.2 L634.4 33.4 L634.5 32.6 L634.6 31.7 L634.7 30.9 L634.8 30.1 L635.0 29.3 L635.1 28.5 L635.2 27.6 L635.3 26.8 L635.4 26.0 L635.5 25.2 L635.7 24.3 L635.8 23.5 L635.9 22.7 L636.0 21.9 L636.1 21.1 L636.3 20.2 L636.4 19.4 L636.5 18.6 L636.6 17.8" stroke="#000000" stroke-width="1.4" fill="none" stroke-linejoin="round"/><path d="M452.9 246.3 L453.8 246.2 L454.6 246.2 L455.4 246.1 L456.3 246.0 L457.1 246.0 L458.0 245.9 L458.8 245.8 L459.7 245.7 L460.5 245.7 L461.3 245.6 L462.2 245.5 L463.0 245.4 L463.9 245.3 L464.7 245.2 L465.5 245.2 L466.4 245.1 L467.2 245.0 L468.1 244.9 L468.9 244.8 L469.7 244.7 L470.6 244.6 L471.4 244.5 L472.3 244.4 L473.1 244.3 L473.9 244.2 L474.8 244.1 L475.6 244.0 L476.4 243.8 L477.3 243.7 L478.1 243.6 L479.0 243.5 L479.8 243.4 L480.6 243.3 L481.5 243.1 L482.3 243.0 L483.1 242.9 L484.0 242.8 L484.8 242.6 L485.6 242.5 L486.5 242.4 L487.3 242.2 L488.1 242.1 L489.0 241.9 L489.8 241.8 L490.6 241.7 L491.5 241.5 L492.3 241.4 L493.1 241.2 L494.0 241.1 L494.8 240.9 L495.6 240.7 L496.4 240.6 L497.3 240.4 L498.1 240.3 L498.9 240.1 L499.8 239.9 L500.6 239.8 L501.4 239.6 L502.2 239.4 L503.1 239.2 L503.9 239.1 L504.7 238.9 L505.5 238.7 L506.4 238.5 L507.2 238.3 L508.0 238.1 L508.8 237.9 L509.7 237.8 L510.5 237.6 L511.3 237.4 L512.1 237.2 L513.0 237.0 L513.8 236.8 L514.6 236.5 L515.4 236.3 L516.2 236.1 L517.1 235.9 L517.9 235.7 L518.7 235.5 L519.5 235.3 L520.3 235.0 L521.1 234.8 L522.0 234.6 L522.8 234.3 L523.6 234.1 L524.4 233.9 L525.2 233.6 L526.0 233.4 L526.8 233.2 L527.6 232.9 L528.5 232.7 L529.3 232.4 L530.1 232.2 L530.9 231.9 L531.7 231.6 L532.5 231.4 L533.3 231.1 L534.1 230.9 L534.9 230.6 L535.7 230.3 L536.5 230.0 L537.3 229.8 L538.1 229.5 L538.9 229.2 L539.7 228.9 L540.5 228.6 L541.3 228.4 L542.2 228.1 L543.0 227.8 L543.7 227.5 L544.5 227.2 L545.3 226.9 L546.1 226.6 L546.9 226.3 L547.7 226.0 L548.5 225.6 L549.3 225.3 L550.1 225.0 L550.9 224.7 L551.7 224.4 L552.5 224.0 L553.3 223.7 L554.1 223.4 L554.9 223.0 L555.6 222.7 L556.4 222.4 L557.2 222.0 L558.0 221.7 L558.8 221.3 L559.5 221.0 L560.3 220.6 L561.1 220.2 L561.9 219.9 L562.6 219.5 L563.4 219.1 L564.1 218.7 L564.9 218.3 L565.7 217.9 L566.4 217.5 L567.1 217.1 L567.9 216.7 L568.6 216.3 L569.3 215.9 L570.1 215.4 L570.8 215.0 L571.5 214.5 L572.2 214.1 L572.9 213.6 L573.6 213.2 L574.3 212.7 L575.0 212.2 L575.7 211.7 L576.4 211.2 L577.0 210.7 L577.7 210.2 L578.4 209.7 L579.0 209.2 L579.7 208.7 L580.3 208.1 L580.9 207.6 L581.6 207.0 L582.2 206.5 L582.8 205.9 L583.4 205.3 L584.0 204.7 L584.6 204.1 L585.2 203.5 L585.8 202.9 L586.3 202.3 L586.9 201.7 L587.5 201.1 L588.0 200.5 L588.6 199.8 L589.1 199.2 L589.7 198.6 L590.2 197.9 L590.7 197.3 L591.3 196.6 L591.8 195.9 L592.3 195.3 L592.8 194.6 L593.3 193.9 L593.8 193.2 L594.3 192.6 L594.8 191.9 L595.3 191.2 L595.7 190.5 L596.2 189.8 L596.7 189.1 L597.1 188.4 L597.6 187.6 L598.1 186.9 L598.5 186.2 L598.9 185.5 L599.4 184.8 L599.8 184.0 L600.2 183.3 L600.7 182.6 L601.1 181.8 L601.5 181.1 L601.9 180.4 L602.3 179.6 L602.7 178.9 L603.1 178.2 L603.5 177.4 L603.9 176.7 L604.3 175.9 L604.7 175.2 L605.1 174.4 L605.4 173.7 L605.8 172.9 L606.2 172.1 L606.5 171.4 L606.9 170.6 L607.2 169.9 L607.6 169.1 L607.9 168.3 L608.3 167.6 L608.6 166.8 L608.9 166.0 L609.3 165.3 L609.6 164.5 L609.9 163.7 L610.2 162.9 L610.6 162.2 L610.9 161.4 L611.2 160.6 L611.5 159.8 L611.8 159.0 L612.1 158.3 L612.4 157.5 L612.7 156.7 L613.0 155.9 L613.3 155.1 L613.5 154.3 L613.8 153.5 L614.1 152.7 L614.4 151.9 L614.6 151.1 L614.9 150.3 L615.2 149.5 L615.4 148.7 L615.7 147.9 L615.9 147.1 L616.2 146.3 L616.4 145.5 L616.7 144.7 L616.9 143.9 L617.2 143.1 L617.4 142.3 L617.6 141.5 L617.9 140.7 L618.1 139.9 L618.3 139.0 L618.5 138.2 L618.7 137.4 L619.0 136.6 L619.2 135.8 L619.4 135.0 L619.6 134.1 L619.8 133.3 L620.0 132.5 L620.2 131.7 L620.4 130.9 L620.6 130.0 L620.8 129.2 L621.0 128.4 L621.2 127.6 L621.4 126.7 L621.6 125.9 L621.8 125.1 L621.9 124.2 L622.1 123.4 L622.3 122.6 L622.5 121.7 L622.6 120.9 L622.8 120.1 L623.0 119.2 L623.2 118.4 L623.3 117.6 L623.5 116.7 L623.6 115.9 L623.8 115.1 L624.0 114.2 L624.1 113.4 L624.3 112.5 L624.4 111.7 L624.6 110.9 L624.7 110.0 L624.9 109.2 L625.0 108.3 L625.2 107.5 L625.3 106.7 L625.5 105.8 L625.6 105.0 L625.7 104.1 L625.9 103.3 L626.0 102.4 L626.2 101.6 L626.3 100.8 L626.4 99.9 L626.6 99.1 L626.7 98.2 L626.8 97.4 L626.9 96.5 L627.1 95.7 L627.2 94.8 L627.3 94.0 L627.4 93.1 L627.6 92.3 L627.7 91.4 L627.8 90.6 L627.9 89.8 L628.1 88.9 L628.2 88.1 L628.3 87.2 L628.4 86.4 L628.5 85.5 L628.6 84.7 L628.8 83.8 L628.9 83.0 L629.0 82.1 L629.1 81.3 L629.2 80.4 L629.3 79.6 L629.4 78.7 L629.5 77.9 L629.7 77.0 L629.8 76.2 L629.9 75.3 L630.0 74.5 L630.1 73.6 L630.2 72.8 L630.3 72.0 L630.4 71.1 L630.5 70.3 L630.6 69.4 L630.8 68.6 L630.9 67.7 L631.0 66.9 L631.1 66.0 L631.2 65.2 L631.3 64.4 L631.4 63.5 L631.5 62.7 L631.6 61.8 L631.7 61.0 L631.8 60.1 L632.0 59.3 L632.1 58.5 L632.2 57.6 L632.3 56.8 L632.4 55.9 L632.5 55.1 L632.6 54.3 L632.7 53.4 L632.8 52.6 L633.0 51.7 L633.1 50.9 L633.2 50.1 L633.3 49.2 L633.4 48.4 L633.5 47.6 L633.7 46.7 L633.8 45.9 L633.9 45.1 L634.0 44.2 L634.1 43.4 L634.2 42.6 L634.4 41.8 L634.5 40.9 L634.6 40.1 L634.7 39.3 L634.9 38.5 L635.0 37.6 L635.1 36.8 L635.3 36.0 L635.4 35.2 L635.5 34.3 L635.6 33.5 L635.8 32.7 L635.9 31.9 L636.1 31.1 L636.2 30.3 L636.3 29.4 L636.5 28.6 L636.6 27.8 L636.8 27.0 L636.9 26.2 L637.0 25.4 L637.2 24.6 L637.3 23.8 L637.5 23.0 L637.6 22.2 L637.8 21.4 L638.0 20.5 L638.1 19.7 L638.3 18.9 L638.4 18.1" stroke="#ff0000" stroke-width="1.4" fill="none" stroke-linejoin="round"/></g><path d="M483.1 23.64V251.2" stroke="#2a2a2a" stroke-width="1.7" stroke-dasharray="5.3 5.37" stroke-dashoffset="8.17" fill="none"/><path d="M459.0 103.7H724.5" stroke="#2a2a2a" stroke-width="1.7" stroke-dasharray="5.4 5.4" stroke-dashoffset="2.4" fill="none"/><rect x="459" y="23.64" width="265.5" height="227.56" fill="none" stroke="#262626" stroke-width="1.7"/><path d="M483 251.2V246.7M483 23.64V28.14M603.7 251.2V246.7M603.7 23.64V28.14M724.4 251.2V246.7M724.4 23.64V28.14M543.35 251.2V248.7M543.35 23.64V26.14M664.05 251.2V248.7M664.05 23.64V26.14M459 238H463.5M724.5 238H720M459 171H463.5M724.5 171H720M459 104H463.5M724.5 104H720M459 37H463.5M724.5 37H720M459 204.5H461.5M724.5 204.5H722M459 137.5H461.5M724.5 137.5H722M459 70.5H461.5M724.5 70.5H722" stroke="#262626" stroke-width="1.4" fill="none"/><text x="483" y="270" font-size="17.2" text-anchor="middle" fill="#000" >0.0</text><text x="603.7" y="270" font-size="17.2" text-anchor="middle" fill="#000" >0.5</text><text x="724.4" y="270" font-size="17.2" text-anchor="middle" fill="#000" >1.0</text><text x="454" y="243.16" font-size="17.2" text-anchor="end" fill="#000" >-10</text><text x="454" y="176.16" font-size="17.2" text-anchor="end" fill="#000" >-5</text><text x="454" y="109.16" font-size="17.2" text-anchor="end" fill="#000" >0</text><text x="454" y="42.16" font-size="17.2" text-anchor="end" fill="#000" >5</text><path d="M651.7 169.4H682.5" stroke="#ff00ff" stroke-width="1.4"/><text x="686.5" y="174.7" font-size="13.5" text-anchor="start" fill="#000" >EH</text><path d="M651.7 186.1H682.5" stroke="#008000" stroke-width="1.4"/><text x="686.5" y="191.38" font-size="13.5" text-anchor="start" fill="#000" >HD</text><path d="M651.7 202.8H682.5" stroke="#000000" stroke-width="1.4"/><text x="686.5" y="208.06" font-size="13.5" text-anchor="start" fill="#000" >EO3</text><path d="M651.7 219.4H682.5" stroke="#ff0000" stroke-width="1.4"/><text x="686.5" y="224.74" font-size="13.5" text-anchor="start" fill="#000" >EO4</text><path d="M651.7 236.1H682.5" stroke="#0000ff" stroke-width="1.4"/><text x="686.5" y="241.42" font-size="13.5" text-anchor="start" fill="#000" >EO5</text><text x="540.5" y="295" font-size="20.6" text-anchor="start" fill="#000" >Voltage (V)</text><text transform="translate(419,257.4) rotate(-90)" font-size="20.4" fill="#000">Current Density (mA cm<tspan dy="-10.5" font-size="12.5">-2</tspan><tspan dy="10.5">)</tspan></text><rect x="60.06" y="321.33" width="265.89" height="227.57" fill="none" stroke="#262626" stroke-width="1.7"/><path d="M86.65 548.9V544.4M86.65 321.33V325.83M139.83 548.9V544.4M139.83 321.33V325.83M193 548.9V544.4M193 321.33V325.83M246.18 548.9V544.4M246.18 321.33V325.83M299.36 548.9V544.4M299.36 321.33V325.83M113.24 548.9V546.4M113.24 321.33V323.83M166.42 548.9V546.4M166.42 321.33V323.83M219.59 548.9V546.4M219.59 321.33V323.83M272.77 548.9V546.4M272.77 321.33V323.83M60.06 533.73H64.56M325.95 533.73H321.45M60.06 473.04H64.56M325.95 473.04H321.45M60.06 412.36H64.56M325.95 412.36H321.45M60.06 351.67H64.56M325.95 351.67H321.45M60.06 503.39H62.56M325.95 503.39H323.45M60.06 442.7H62.56M325.95 442.7H323.45M60.06 382.02H62.56M325.95 382.02H323.45" stroke="#262626" stroke-width="1.4" fill="none"/><text x="86.65" y="567.9" font-size="17.2" text-anchor="middle" fill="#000" >8</text><text x="139.83" y="567.9" font-size="17.2" text-anchor="middle" fill="#000" >10</text><text x="193" y="567.9" font-size="17.2" text-anchor="middle" fill="#000" >12</text><text x="246.18" y="567.9" font-size="17.2" text-anchor="middle" fill="#000" >14</text><text x="299.36" y="567.9" font-size="17.2" text-anchor="middle" fill="#000" >16</text><text x="54" y="538.89" font-size="17.2" text-anchor="end" fill="#000" >0</text><text x="54" y="478.2" font-size="17.2" text-anchor="end" fill="#000" >1</text><text x="54" y="417.52" font-size="17.2" text-anchor="end" fill="#000" >2</text><text x="54" y="356.83" font-size="17.2" text-anchor="end" fill="#000" >3</text><rect x="81.75" y="366.19" width="9.8" height="9.8" fill="#000000"/><rect x="134.93" y="354.78" width="9.8" height="9.8" fill="#ff0000"/><rect x="214.69" y="366.8" width="9.8" height="9.8" fill="#ff0000"/><rect x="294.46" y="511.84" width="9.8" height="9.8" fill="#ff0000"/><rect x="294.46" y="523.97" width="9.8" height="9.8" fill="#000000"/><path d="M86.65 358.35V383.84M83.95 358.35H89.35M83.95 383.84H89.35" stroke="#000" stroke-opacity="0.8" stroke-width="1" fill="none"/><path d="M139.83 348.64V371.09M137.13 348.64H142.53M137.13 371.09H142.53" stroke="#000" stroke-opacity="0.8" stroke-width="1" fill="none"/><path d="M219.59 349.85V394.15M216.89 349.85H222.29M216.89 394.15H222.29" stroke="#000" stroke-opacity="0.8" stroke-width="1" fill="none"/><path d="M299.36 514.31V519.16M296.66 514.31H302.06M296.66 519.16H302.06" stroke="#000" stroke-opacity="0.8" stroke-width="1" fill="none"/><text x="95.5" y="372.5" font-size="17.2" text-anchor="start" fill="#000000" >EH</text><text x="148.6" y="361" font-size="17.2" text-anchor="start" fill="#ff0000" >EO3</text><text x="227.7" y="373.4" font-size="17.2" text-anchor="start" fill="#ff0000" >EO4</text><text x="291.3" y="517.7" font-size="17.2" text-anchor="end" fill="#ff0000" >EO5</text><text x="289.4" y="540" font-size="17.2" text-anchor="end" fill="#000000" >HD</text><text x="19.3" y="598.3" font-size="20.35" text-anchor="start" fill="#000" >Number of Carbon and Oxygen Atoms</text><text transform="translate(33.9,487.8) rotate(-90)" font-size="20.3" fill="#000"><tspan font-style="italic">PCE</tspan> (%)</text><rect x="457.45" y="321.33" width="266.05" height="227.57" fill="none" stroke="#262626" stroke-width="1.7"/><path d="M484.06 548.9V544.4M484.06 321.33V325.83M537.26 548.9V544.4M537.26 321.33V325.83M590.48 548.9V544.4M590.48 321.33V325.83M643.68 548.9V544.4M643.68 321.33V325.83M696.89 548.9V544.4M696.89 321.33V325.83M510.66 548.9V546.4M510.66 321.33V323.83M563.87 548.9V546.4M563.87 321.33V323.83M617.08 548.9V546.4M617.08 321.33V323.83M670.29 548.9V546.4M670.29 321.33V323.83M457.45 529.61H461.95M723.5 529.61H719M457.45 491.04H461.95M723.5 491.04H719M457.45 452.47H461.95M723.5 452.47H719M457.45 413.9H461.95M723.5 413.9H719M457.45 375.33H461.95M723.5 375.33H719M457.45 336.76H461.95M723.5 336.76H719M457.45 510.33H459.95M723.5 510.33H721M457.45 471.76H459.95M723.5 471.76H721M457.45 433.19H459.95M723.5 433.19H721M457.45 394.62H459.95M723.5 394.62H721M457.45 356.04H459.95M723.5 356.04H721" stroke="#262626" stroke-width="1.4" fill="none"/><text x="484.06" y="567.9" font-size="17.2" text-anchor="middle" fill="#000" >8</text><text x="537.26" y="567.9" font-size="17.2" text-anchor="middle" fill="#000" >10</text><text x="590.48" y="567.9" font-size="17.2" text-anchor="middle" fill="#000" >12</text><text x="643.68" y="567.9" font-size="17.2" text-anchor="middle" fill="#000" >14</text><text x="696.89" y="567.9" font-size="17.2" text-anchor="middle" fill="#000" >16</text><text x="451.5" y="534.77" font-size="17.2" text-anchor="end" fill="#000" >30</text><text x="451.5" y="496.2" font-size="17.2" text-anchor="end" fill="#000" >35</text><text x="451.5" y="457.63" font-size="17.2" text-anchor="end" fill="#000" >40</text><text x="451.5" y="419.06" font-size="17.2" text-anchor="end" fill="#000" >45</text><text x="451.5" y="380.49" font-size="17.2" text-anchor="end" fill="#000" >50</text><text x="451.5" y="341.92" font-size="17.2" text-anchor="end" fill="#000" >55</text><rect x="479.16" y="362.72" width="9.8" height="9.8" fill="#000000"/><rect x="532.37" y="370.43" width="9.8" height="9.8" fill="#ff0000"/><rect x="612.18" y="385.86" width="9.8" height="9.8" fill="#ff0000"/><rect x="692" y="462.23" width="9.8" height="9.8" fill="#000000"/><rect x="692" y="493.47" width="9.8" height="9.8" fill="#ff0000"/><path d="M484.06 350.64V384.2M481.36 350.64H486.75M481.36 384.2H486.75" stroke="#000" stroke-opacity="0.38" stroke-width="1" fill="none"/><path d="M537.26 371.86V378.8M534.56 371.86H539.97M534.56 378.8H539.97" stroke="#000" stroke-opacity="0.38" stroke-width="1" fill="none"/><path d="M617.08 362.99V418.53M614.38 362.99H619.78M614.38 418.53H619.78" stroke="#000" stroke-opacity="0.38" stroke-width="1" fill="none"/><path d="M696.89 431.64V504.16M694.19 431.64H699.6M694.19 504.16H699.6" stroke="#000" stroke-opacity="0.38" stroke-width="1" fill="none"/><path d="M696.89 477.16V520.36M694.19 477.16H699.6M694.19 520.36H699.6" stroke="#000" stroke-opacity="0.38" stroke-width="1" fill="none"/><text x="492.3" y="367.3" font-size="17.2" text-anchor="start" fill="#000000" >EH</text><text x="546.5" y="375.6" font-size="17.2" text-anchor="start" fill="#ff0000" >EO3</text><text x="626.5" y="391.7" font-size="17.2" text-anchor="start" fill="#ff0000" >EO4</text><text x="686.7" y="470" font-size="17.2" text-anchor="end" fill="#000000" >HD</text><text x="683.7" y="507.9" font-size="17.2" text-anchor="end" fill="#ff0000" >EO5</text><text x="417.1" y="598.3" font-size="20.35" text-anchor="start" fill="#000" >Number of Carbon and Oxygen Atoms</text><text transform="translate(420.8,479.3) rotate(-90)" font-size="20.5" fill="#000"><tspan font-style="italic">FF</tspan> (%)</text><rect x="60.06" y="618.27" width="265.84" height="227.53" fill="none" stroke="#262626" stroke-width="1.7"/><path d="M86.64 845.8V841.3M86.64 618.27V622.77M139.81 845.8V841.3M139.81 618.27V622.77M192.98 845.8V841.3M192.98 618.27V622.77M246.15 845.8V841.3M246.15 618.27V622.77M299.32 845.8V841.3M299.32 618.27V622.77M113.23 845.8V843.3M113.23 618.27V620.77M166.4 845.8V843.3M166.4 618.27V620.77M219.56 845.8V843.3M219.56 618.27V620.77M272.73 845.8V843.3M272.73 618.27V620.77M60.06 829.55H64.56M325.9 829.55H321.4M60.06 797.04H64.56M325.9 797.04H321.4M60.06 764.54H64.56M325.9 764.54H321.4M60.06 732.03H64.56M325.9 732.03H321.4M60.06 699.53H64.56M325.9 699.53H321.4M60.06 667.03H64.56M325.9 667.03H321.4M60.06 634.52H64.56M325.9 634.52H321.4M60.06 813.3H62.56M325.9 813.3H323.4M60.06 780.79H62.56M325.9 780.79H323.4M60.06 748.29H62.56M325.9 748.29H323.4M60.06 715.78H62.56M325.9 715.78H323.4M60.06 683.28H62.56M325.9 683.28H323.4M60.06 650.77H62.56M325.9 650.77H323.4" stroke="#262626" stroke-width="1.4" fill="none"/><text x="86.64" y="864.8" font-size="17.2" text-anchor="middle" fill="#000" >8</text><text x="139.81" y="864.8" font-size="17.2" text-anchor="middle" fill="#000" >10</text><text x="192.98" y="864.8" font-size="17.2" text-anchor="middle" fill="#000" >12</text><text x="246.15" y="864.8" font-size="17.2" text-anchor="middle" fill="#000" >14</text><text x="299.32" y="864.8" font-size="17.2" text-anchor="middle" fill="#000" >16</text><text x="54" y="834.71" font-size="17.2" text-anchor="end" fill="#000" >0</text><text x="54" y="802.2" font-size="17.2" text-anchor="end" fill="#000" >2</text><text x="54" y="769.7" font-size="17.2" text-anchor="end" fill="#000" >4</text><text x="54" y="737.19" font-size="17.2" text-anchor="end" fill="#000" >6</text><text x="54" y="704.69" font-size="17.2" text-anchor="end" fill="#000" >8</text><text x="54" y="672.19" font-size="17.2" text-anchor="end" fill="#000" >10</text><text x="54" y="639.68" font-size="17.2" text-anchor="end" fill="#000" >12</text><rect x="81.74" y="709.42" width="9.8" height="9.8" fill="#000000"/><rect x="134.91" y="663.59" width="9.8" height="9.8" fill="#ff0000"/><rect x="214.66" y="665.7" width="9.8" height="9.8" fill="#ff0000"/><rect x="294.42" y="795.07" width="9.8" height="9.8" fill="#ff0000"/><rect x="294.42" y="817.5" width="9.8" height="9.8" fill="#000000"/><path d="M86.64 707.33V721.31M83.94 707.33H89.34M83.94 721.31H89.34" stroke="#000" stroke-opacity="0.5" stroke-width="1" fill="none"/><path d="M139.81 659.39V678.4M137.11 659.39H142.51M137.11 678.4H142.51" stroke="#000" stroke-opacity="0.5" stroke-width="1" fill="none"/><path d="M219.56 639.89V701.48M216.86 639.89H222.26M216.86 701.48H222.26" stroke="#000" stroke-opacity="0.5" stroke-width="1" fill="none"/><path d="M299.32 794.77V805.17M296.62 794.77H302.02M296.62 805.17H302.02" stroke="#000" stroke-opacity="0.5" stroke-width="1" fill="none"/><text x="96.7" y="718.4" font-size="17.2" text-anchor="start" fill="#000000" >EH</text><text x="148.6" y="673.6" font-size="17.2" text-anchor="start" fill="#ff0000" >EO3</text><text x="227.8" y="673" font-size="17.2" text-anchor="start" fill="#ff0000" >EO4</text><text x="289.7" y="802.9" font-size="17.2" text-anchor="end" fill="#ff0000" >EO5</text><text x="287.6" y="832" font-size="17.2" text-anchor="end" fill="#000000" >HD</text><text x="19.3" y="894.7" font-size="20.35" text-anchor="start" fill="#000" >Number of Carbon and Oxygen Atoms</text><text transform="translate(21,808.3) rotate(-90)" font-size="20.3" fill="#000"><tspan font-style="italic" font-size="21.5">J</tspan><tspan font-size="13" dy="8">SC</tspan><tspan dy="-8"> (mA cm</tspan><tspan dy="-10" font-size="12.5">-2</tspan><tspan dy="10">)</tspan></text><rect x="457.5" y="618.27" width="266" height="227.53" fill="none" stroke="#262626" stroke-width="1.7"/><path d="M484.1 845.8V841.3M484.1 618.27V622.77M537.3 845.8V841.3M537.3 618.27V622.77M590.5 845.8V841.3M590.5 618.27V622.77M643.7 845.8V841.3M643.7 618.27V622.77M696.9 845.8V841.3M696.9 618.27V622.77M510.7 845.8V843.3M510.7 618.27V620.77M563.9 845.8V843.3M563.9 618.27V620.77M617.1 845.8V843.3M617.1 618.27V620.77M670.3 845.8V843.3M670.3 618.27V620.77M457.5 821.85H462M723.5 821.85H719M457.5 773.95H462M723.5 773.95H719M457.5 726.05H462M723.5 726.05H719M457.5 678.15H462M723.5 678.15H719M457.5 630.25H462M723.5 630.25H719M457.5 797.9H460M723.5 797.9H721M457.5 750H460M723.5 750H721M457.5 702.1H460M723.5 702.1H721M457.5 654.2H460M723.5 654.2H721" stroke="#262626" stroke-width="1.4" fill="none"/><text x="484.1" y="864.8" font-size="17.2" text-anchor="middle" fill="#000" >8</text><text x="537.3" y="864.8" font-size="17.2" text-anchor="middle" fill="#000" >10</text><text x="590.5" y="864.8" font-size="17.2" text-anchor="middle" fill="#000" >12</text><text x="643.7" y="864.8" font-size="17.2" text-anchor="middle" fill="#000" >14</text><text x="696.9" y="864.8" font-size="17.2" text-anchor="middle" fill="#000" >16</text><text x="451.5" y="827.01" font-size="17.2" text-anchor="end" fill="#000" >400</text><text x="451.5" y="779.11" font-size="17.2" text-anchor="end" fill="#000" >500</text><text x="451.5" y="731.21" font-size="17.2" text-anchor="end" fill="#000" >600</text><text x="451.5" y="683.31" font-size="17.2" text-anchor="end" fill="#000" >700</text><text x="451.5" y="635.41" font-size="17.2" text-anchor="end" fill="#000" >800</text><rect x="479.2" y="657.73" width="9.8" height="9.8" fill="#000000"/><rect x="532.4" y="729.39" width="9.8" height="9.8" fill="#ff0000"/><rect x="612.2" y="735.37" width="9.8" height="9.8" fill="#ff0000"/><rect x="692" y="755.83" width="9.8" height="9.8" fill="#000000"/><rect x="692" y="789.17" width="9.8" height="9.8" fill="#ff0000"/><path d="M537.3 732.37V736.2M534.6 732.37H540M534.6 736.2H540" stroke="#000" stroke-opacity="0.38" stroke-width="1" fill="none"/><path d="M617.1 729.07V750.96M614.4 729.07H619.8M614.4 750.96H619.8" stroke="#000" stroke-opacity="0.38" stroke-width="1" fill="none"/><path d="M696.9 716.47V806.04M694.2 716.47H699.6M694.2 806.04H699.6" stroke="#000" stroke-opacity="0.38" stroke-width="1" fill="none"/><path d="M696.9 758.14V829.75M694.2 758.14H699.6M694.2 829.75H699.6" stroke="#000" stroke-opacity="0.38" stroke-width="1" fill="none"/><text x="494.9" y="665" font-size="17.2" text-anchor="start" fill="#000000" >EH</text><text x="547.9" y="735.6" font-size="17.2" text-anchor="start" fill="#ff0000" >EO3</text><text x="626.4" y="741" font-size="17.2" text-anchor="start" fill="#ff0000" >EO4</text><text x="687.4" y="764.4" font-size="17.2" text-anchor="end" fill="#000000" >HD</text><text x="687.4" y="803.8" font-size="17.2" text-anchor="end" fill="#ff0000" >EO5</text><text x="417.1" y="894.7" font-size="20.35" text-anchor="start" fill="#000" >Number of Carbon and Oxygen Atoms</text><text transform="translate(409.2,787.5) rotate(-90)" font-size="20.6" fill="#000"><tspan font-style="italic">V</tspan><tspan font-size="13" dy="8">OC</tspan><tspan dy="-8"> (mV)</tspan></text></g></svg></body></html>
